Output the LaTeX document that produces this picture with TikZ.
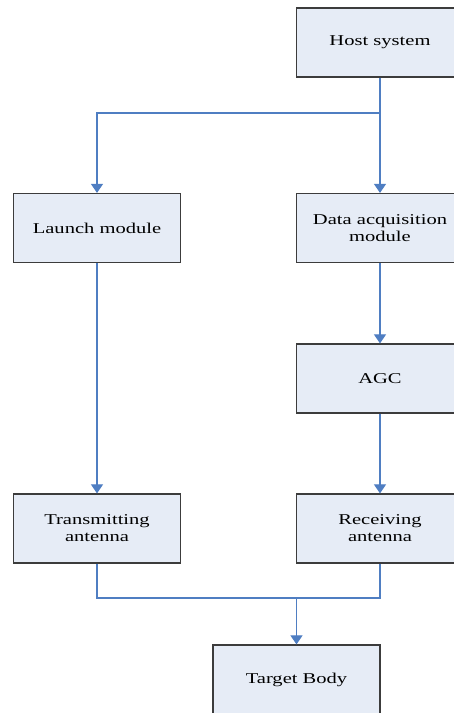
\documentclass[tikz,border=0pt]{standalone}
\usepackage{fontspec}
\setmainfont{Liberation Serif}[FakeStretch=1.37]
\usepackage{xcolor}
\usepackage{tikz}
\usetikzlibrary{arrows.meta}
\definecolor{boxfill}{HTML}{E6ECF6}
\definecolor{boxline}{HTML}{3C3C3C}
\definecolor{linkblue}{HTML}{4F7EC2}

\begin{document}
\begin{tikzpicture}[x=1pt,y=-1pt,
  block/.style={draw=boxline,line width=1.2pt,fill=boxfill,minimum width=167pt,
    minimum height=69pt,inner sep=0pt,align=center,
    font=\fontsize{15}{17}\selectfont},
  link/.style={draw=linkblue,line width=1.1pt},
  linkarrow/.style={link,-{Triangle[length=9pt,width=12pt]}}]
\useasboundingbox (0,0) rectangle (453,713);
\node[block] (host) at (380,42.5) {Host system};
\node[block] (launch) at (97,228) {Launch module};
\node[block] (daq) at (380,228) {Data acquisition\\module};
\node[block] (agc) at (380,378.5) {AGC};
\node[block] (tx) at (97,528.5) {Transmitting\\antenna};
\node[block] (rx) at (380,528.5) {Receiving\\antenna};
\node[block] (target) at (296.5,679.5) {Target Body};
\coordinate (split) at (380,113);
\coordinate (merge) at (296.5,598);
\draw [linkarrow] (host.south) -- (split) -| (launch.north);
\draw [linkarrow] (host.south) -- (daq.north);
\draw [linkarrow] (daq.south) -- (agc.north);
\draw [linkarrow] (agc.south) -- (rx.north);
\draw [linkarrow] (launch.south) -- (tx.north);
\draw [link] (tx.south) |- (merge) -| (rx.south);
\draw [linkarrow] (merge) -- (target.north);
\end{tikzpicture}
\end{document}
